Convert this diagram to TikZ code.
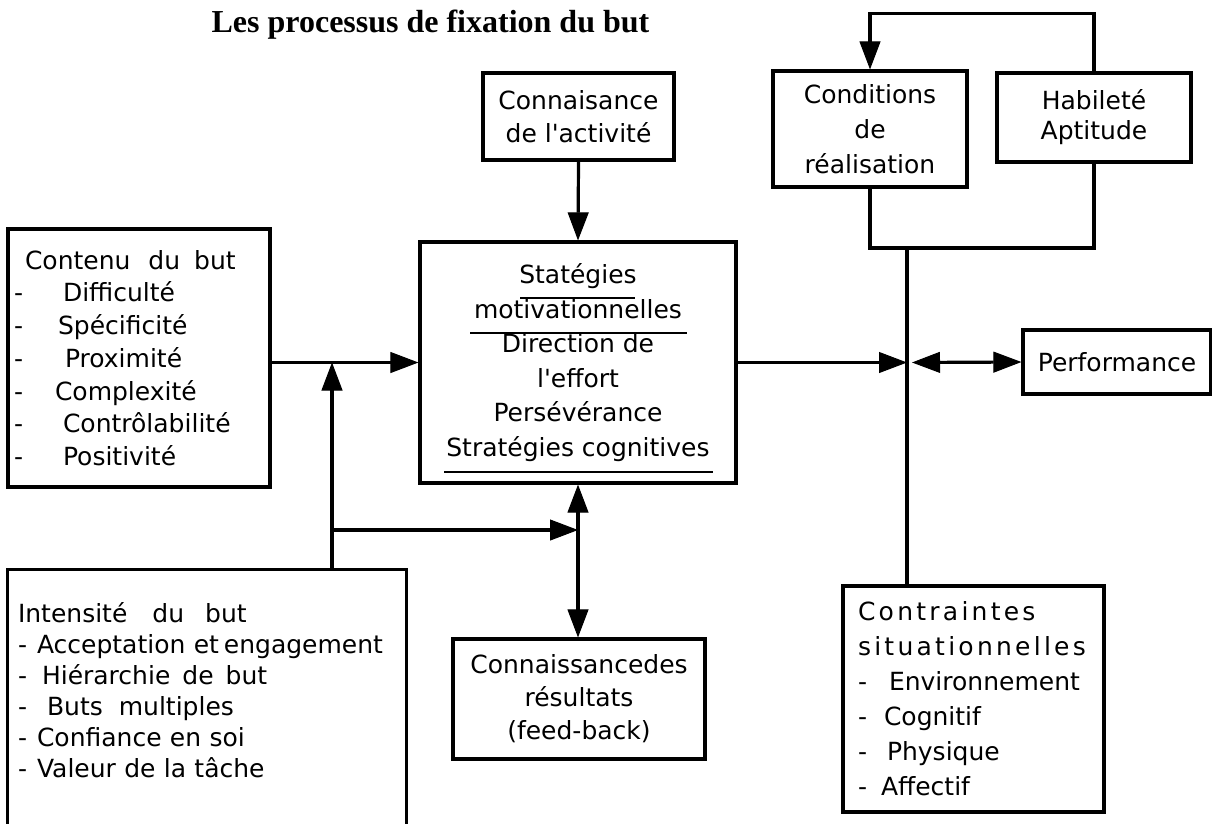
\documentclass[tikz,border=0pt]{standalone}
\usepackage{fontspec}
\setmainfont{DejaVu Sans}
\newfontfamily\titlefont{Liberation Serif}
\newfontfamily\spacedfont[LetterSpace=13]{DejaVu Sans}
\usetikzlibrary{arrows.meta}

\begin{document}
\begin{tikzpicture}[x=1pt,y=-1pt,
  >={Triangle[length=28pt,width=21pt,line width=1pt]},
  box/.style={draw, line width=3.2pt, inner sep=0pt},
  conn/.style={line width=3.2pt},
  rule/.style={line width=1.5pt},
  txt/.style={font=\fontsize{25}{#1}\selectfont},
  txt/.default=34
]
\useasboundingbox (0,0) rectangle (1212,823);

% title
\node[font=\titlefont\bfseries\fontsize{32}{38}\selectfont, anchor=base] (title)
  at (430.5,32) {Les processus de fixation du but};

% central box
\node[box, minimum width=316pt, minimum height=241pt, align=center, txt=34.6] (main)
  at (578,362.5) {Statégies\\motivationnelles\\Direction de\\l\textquotesingle effort\\Persévérance\\Stratégies cognitives};
\draw[rule] (520,298) -- (635,298);
\draw[rule] (470,333) -- (687,333);
\draw[rule] (444,472) -- (713,472);

% knowledge of the activity
\node[box, minimum width=191pt, minimum height=87pt, align=center, txt=33] (conna)
  at (578.5,116.5) {Connaisance\\de l\textquotesingle activité};

% goal content
\node[box, minimum height=258pt, text width=250pt, inner xsep=6pt, align=left, txt=32.7] (contenu)
  at (139,358) {\hspace*{11pt}Contenu\hspace{18pt}du\hspace{14pt}but\\
  \makebox[49pt][l]{-}Difficulté\\
  \makebox[44pt][l]{-}Spécificité\\
  \makebox[51pt][l]{-}Proximité\\
  \makebox[41pt][l]{-}Complexité\\
  \makebox[49pt][l]{-}Contrôlabilité\\
  \makebox[49pt][l]{-}Positivité};

% goal intensity (frame open at the bottom)
\node[minimum width=398pt, minimum height=240pt, text width=378pt, inner xsep=10pt, inner ysep=0pt, align=left, txt=31] (intens)
  at (207,690) {Intensité\hspace{25pt}du\hspace{21pt}but\\
  \makebox[19pt][l]{-}Acceptation et\hspace{5pt}engagement\\
  \makebox[24pt][l]{-}Hiérarchie\hspace{12pt}de\hspace{12pt}but\\
  \makebox[29pt][l]{-}Buts\hspace{16pt}multiples\\
  \makebox[19pt][l]{-}Confiance en soi\\
  \makebox[19pt][l]{-}Valeur de la tâche};
\draw[conn] ([yshift=-60pt]intens.south west) -- (intens.north west)
  -- (intens.north east) -- ([yshift=-60pt]intens.south east);

% knowledge of results
\node[box, minimum width=252pt, minimum height=120pt, align=center, txt=33] (res)
  at (579,699) {Connaissancedes\\résultats\\(feed-back)};

% conditions and ability
\node[box, minimum width=194pt, minimum height=116pt, align=center, txt=35] (cond)
  at (870,129) {Conditions\\de\\réalisation};
\node[box, minimum width=194pt, minimum height=89pt, align=center, txt=30] (hab)
  at (1094,117.5) {Habileté\\Aptitude};

% situational constraints
\node[box, minimum width=261pt, minimum height=226pt, text width=231pt, inner xsep=15pt, align=left, txt=35] (cont)
  at (973.5,699) {{\spacedfont Contraintes}\\
  {\spacedfont situationnelles}\\
  \makebox[31pt][l]{-}Environnement\\
  \makebox[26pt][l]{-}Cognitif\\
  \makebox[29pt][l]{-}Physique\\
  \makebox[23pt][l]{-}Affectif};

% performance
\node[box, minimum width=188pt, minimum height=64pt, txt] (perf)
  at (1117,362) {Performance};

% helper coordinates
\coordinate (lx) at (332,0);
\coordinate (midrow) at (0,530);
\coordinate (botrow) at (0,248);
\coordinate (vj) at (907,248);
\coordinate (rj) at (vj |- main.east);

% connectors on the left
\draw[conn,->] (conna.south) -- (main.north);
\draw[conn,->] (contenu.east |- main.west) -- (main.west);
\draw[conn,->] (lx |- intens.north) -- (lx |- main.west);
\draw[conn,->] (lx |- midrow) -- (main.south |- midrow);
\draw[conn,<->] (main.south) -- (main.south |- res.north);

% connectors on the right
\draw[conn,->] (hab.north) -- ++(0,-58) -| (cond.north);
\draw[conn] (cond.south) -- (cond.south |- botrow) -- (hab.south |- botrow) -- (hab.south);
\draw[conn] (vj) -- (vj |- cont.north);
\draw[conn,->] (main.east) -- (rj);
\draw[conn,<->] ([xshift=5pt]rj) -- (perf.west);
\end{tikzpicture}
\end{document}
